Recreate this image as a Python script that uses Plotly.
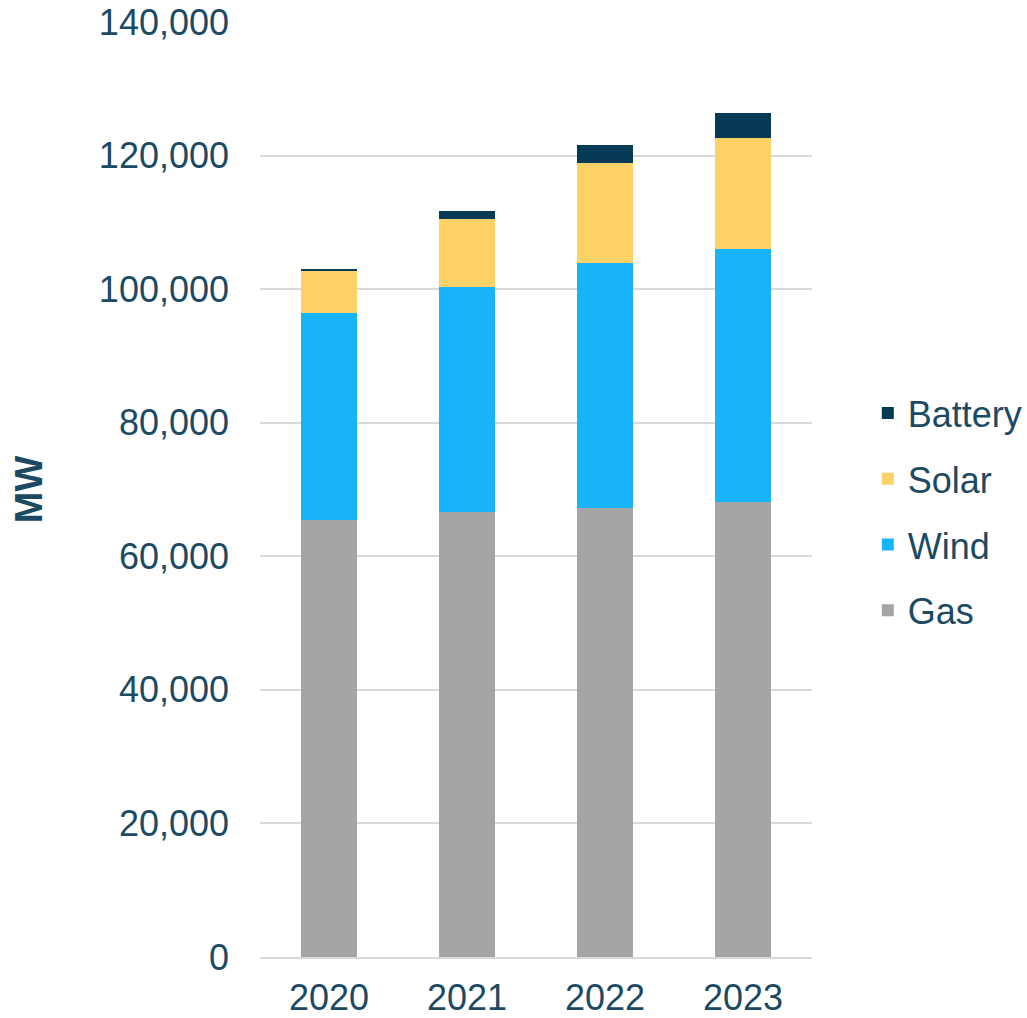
import plotly.graph_objects as go

# Installed capacity by year and technology (MW)
years = ["2020", "2021", "2022", "2023"]
gas = [65400, 66600, 67200, 68100]
wind = [31000, 33700, 36700, 37900]
solar = [6300, 10200, 15000, 16700]
battery = [300, 1150, 2750, 3700]

y_ticks = [0, 20000, 40000, 60000, 80000, 100000, 120000, 140000]

text_color = "#1D4A63"
font_family = "Liberation Sans, Arial, sans-serif"

# (name, values, colour, legend rank) - stacked bottom to top, listed top to bottom
series = [
    ("Gas", gas, "#A5A5A5", 4),
    ("Wind", wind, "#18B4F9", 3),
    ("Solar", solar, "#FDD166", 2),
    ("Battery", battery, "#073A55", 1),
]

fig = go.Figure()
for name, values, color, rank in series:
    fig.add_trace(go.Bar(
        x=years,
        y=values,
        name=name,
        legendgroup=name,
        legendrank=rank,
        marker=dict(color=color, line=dict(width=0)),
    ))

fig.update_layout(
    barmode="stack",
    bargap=0.59,
    width=1027,
    height=1018,
    margin=dict(l=260, r=215, t=22, b=61),
    paper_bgcolor="white",
    plot_bgcolor="white",
    font=dict(family=font_family, size=36, color=text_color),
    legend=dict(
        traceorder="grouped",
        tracegroupgap=16,
        xref="container",
        yref="container",
        x=0.845,
        y=0.497,
        xanchor="left",
        yanchor="middle",
        font=dict(size=36, color=text_color),
        bgcolor="rgba(0,0,0,0)",
    ),
    showlegend=True,
)

fig.update_yaxes(
    range=[0, 140000],
    tickvals=y_ticks,
    tickformat=",d",
    showgrid=True,
    gridcolor="#D9D9D9",
    gridwidth=2,
    zeroline=False,
    showline=False,
    automargin=False,
    ticklabelstandoff=30,
    title=dict(text="<b>MW</b>", font=dict(size=38, color=text_color), standoff=44),
)

fig.update_xaxes(
    showgrid=False,
    showline=True,
    linecolor="#D9D9D9",
    linewidth=2,
    ticks="",
    automargin=False,
    ticklabelstandoff=8,
)

fig.write_html("out.html")
